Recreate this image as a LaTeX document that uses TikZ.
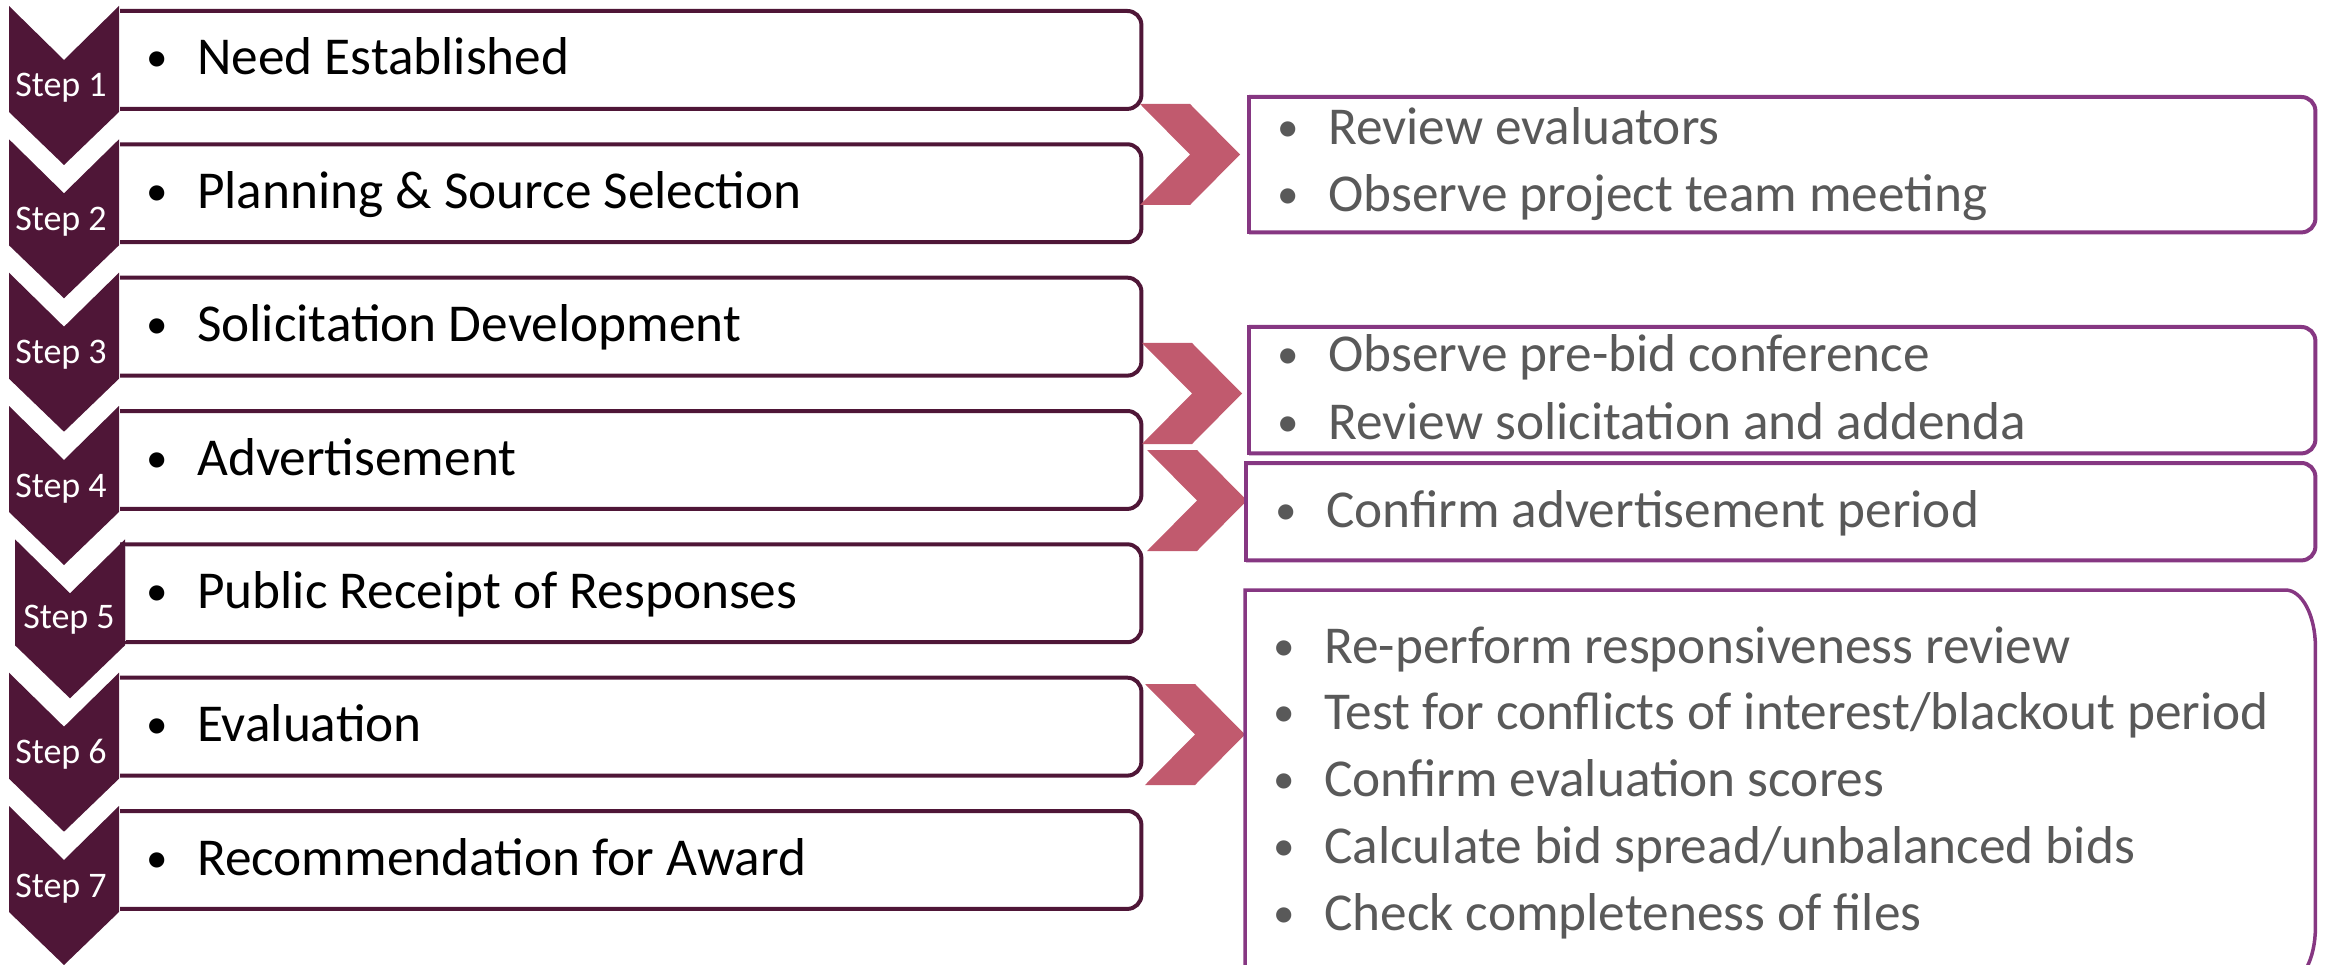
\documentclass[tikz,border=0pt]{standalone}
\usepackage{fontspec}
\setmainfont{Carlito}
\usetikzlibrary{calc}
\definecolor{stepcol}{RGB}{79,22,55}
\definecolor{boxcol}{RGB}{134,55,130}
\definecolor{pinkcol}{RGB}{193,90,110}
\definecolor{txtgray}{RGB}{89,89,89}
\definecolor{shadegray}{RGB}{230,226,230}
\newcommand\mybul{\llap{\makebox[0pt][c]{\raisebox{3pt}{\fontsize{43}{43}\selectfont\textbullet}}\hspace{40pt}}}
\newcommand\darkchev[2]{\fill[stepc] (#1,#2) -- ++(55,54) -- ++(55,-54) -- ++(0,106) -- ++(-55,53) -- ++(-55,-53) -- cycle;}
\newcommand\pinkchev[2]{\fill[pinkc] (#1,#2) -- ++(50,0) -- ++(50,50.5) -- ++(-50,50.5) -- ++(-50,0) -- ++(50,-50.5) -- cycle;}
\begin{document}
\begin{tikzpicture}[x=1pt,y=-1pt,
  stepc/.style={fill=stepcol},
  pinkc/.style={fill=pinkcol},
  lbord/.style={draw=stepcol,line width=4pt,rounded corners=14pt},
  rbord/.style={draw=boxcol,line width=4pt,rounded corners=14pt},
  rside/.style={draw=boxcol,line width=4pt,line cap=rect},
  lboxn/.style={inner sep=0pt,minimum width=1021pt,minimum height=97.5pt,anchor=north west},
  rboxn/.style={inner sep=0pt,anchor=north west},
  ltext/.style={anchor=base west,inner sep=0pt,font=\fontsize{53.3}{60}\selectfont,text=black},
  rtext/.style={anchor=base west,inner sep=0pt,font=\fontsize{53.3}{60}\selectfont,text=txtgray},
  steplbl/.style={anchor=base,inner sep=0pt,text=white,font=\fontsize{36}{40}\selectfont}]
\useasboundingbox (0,0) rectangle (2326,965);

% left boxes
\node[lboxn] (b1) at (120,11) {};
\node[lboxn] (b2) at (120,144.3) {};
\node[lboxn] (b3) at (120,277.7) {};
\node[lboxn] (b4) at (120,411) {};
\node[lboxn] (b5) at (120,544.3) {};
\node[lboxn] (b6) at (120,677.7) {};
\node[lboxn] (b7) at (120,811) {};
\foreach \n in {b1,b2,b3,b4,b5,b6,b7}
  \draw[lbord] (\n.north west) -- (\n.north east) -- (\n.south east) -- (\n.south west);
\fill[shadegray] (119,547) rectangle (126,641);

% pink chevrons
\pinkchev{1140}{104}
\pinkchev{1142}{343}
\pinkchev{1147}{450}
\pinkchev{1145}{684}

% right boxes
\node[rboxn,minimum width=1066pt,minimum height=135pt] (ra) at (1249,97) {};
\node[rboxn,minimum width=1066pt,minimum height=126pt] (rb) at (1249,327) {};
\node[rboxn,minimum width=1069pt,minimum height=97pt] (rc) at (1246,463) {};
\node[rboxn,minimum width=1070pt,minimum height=394pt] (rd) at (1245,590) {};
\foreach \n in {ra,rb,rc}{
  \draw[rbord] (\n.north west) -- (\n.north east) -- (\n.south east) -- (\n.south west);
  \draw[rside] (\n.south west) -- (\n.north west);
}
\draw[draw=boxcol,line width=3.5pt,line cap=rect]
  (rd.south west) -- (rd.north west) -- ($(rd.north east)+(-30,0)$)
  .. controls ($(rd.north east)+(-13.4,0)$) and ($(rd.north east)+(0,25.5)$) .. ($(rd.north east)+(0,57)$)
  -- ($(rd.south east)+(0,-57)$)
  .. controls ($(rd.south east)+(0,-25.5)$) and ($(rd.south east)+(-13.4,0)$) .. ($(rd.south east)+(-30,0)$)
  -- (rd.south west);

% dark step chevrons
\darkchev{9}{6}
\darkchev{9}{139.3}
\darkchev{9}{272.7}
\darkchev{9}{406}
\darkchev{15}{539.3}
\darkchev{9}{672.7}
\darkchev{9}{806}

% step labels
\node[steplbl] (s1) at (61,97) {Step 1};
\node[steplbl] (s2) at (61,230.3) {Step 2};
\node[steplbl] (s3) at (61,363.7) {Step 3};
\node[steplbl] (s4) at (61,497) {Step 4};
\node[steplbl] (s5) at (69,628) {Step 5};
\node[steplbl] (s6) at (61,763.7) {Step 6};
\node[steplbl] (s7) at (61,897) {Step 7};

% left texts
\node[ltext] (t1) at (197,75) {\mybul Need Established};
\node[ltext] (t2) at (197,208.3) {\mybul Planning \& Source Selection};
\node[ltext] (t3) at (197,341.7) {\mybul Solicitation Development};
\node[ltext] (t4) at (197,475) {\mybul Advertisement};
\node[ltext] (t5) at (197,608.3) {\mybul Public Receipt of Responses};
\node[ltext] (t6) at (197,741.7) {\mybul Evaluation};
\node[ltext] (t7) at (197,875) {\mybul Recommendation for Award};

% right texts
\node[rtext] (ra1) at (1328,145) {\mybul Review evaluators};
\node[rtext] (ra2) at (1328,212) {\mybul Observe project team meeting};
\node[rtext] (rb1) at (1328,372) {\mybul Observe pre-bid conference};
\node[rtext] (rb2) at (1328,439) {\mybul Review solicitation and addenda};
\node[rtext] (rc1) at (1326,527) {\mybul Confirm advertisement period};
\node[rtext] (rd1) at (1324,663) {\mybul Re-perform responsiveness review};
\node[rtext] (rd2) at (1324,729) {\mybul Test for conflicts of interest/blackout period};
\node[rtext] (rd3) at (1324,796) {\mybul Confirm evaluation scores};
\node[rtext] (rd4) at (1324,863) {\mybul Calculate bid spread/unbalanced bids};
\node[rtext] (rd5) at (1324,930) {\mybul Check completeness of files};
\end{tikzpicture}
\end{document}
